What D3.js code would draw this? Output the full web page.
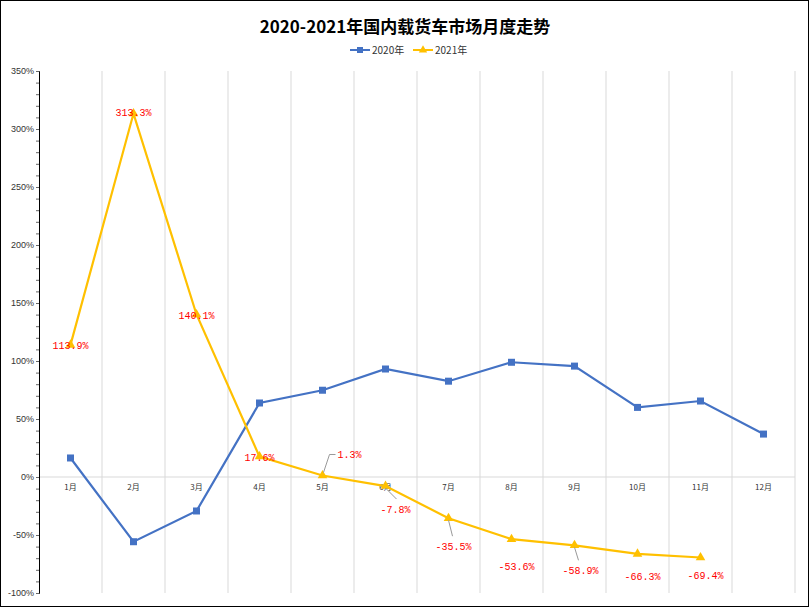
<!DOCTYPE html><html><head><meta charset="utf-8"><script src="https://cdn.jsdelivr.net/npm/d3@7"></script>
<style>body{margin:0;background:#fff}</style></head><body><svg id="c" width="810" height="608"></svg>
<script>
const months=["1月","2月","3月","4月","5月","6月","7月","8月","9月","10月","11月","12月"];
const s2020=[16.4,-55.8,-29.3,63.8,74.8,93.1,82.6,98.9,95.6,60.0,65.5,37.0];
const s2021=[113.9,313.3,140.1,17.6,1.3,-7.8,-35.5,-53.6,-58.9,-66.3,-69.4];
const lbl2021=["113.9%","313.3%","140.1%","17.6%","1.3%","-7.8%","-35.5%","-53.6%","-58.9%","-66.3%","-69.4%"];
const yTicks=[-100,-50,0,50,100,150,200,250,300,350];
const svg=d3.select("#c");
svg.append("rect").attr("x",0.5).attr("y",0.5).attr("width",808).attr("height",606).attr("fill","#fff").attr("stroke","#000");
const x=d3.scaleBand().domain(months).range([39,795]);
const y=d3.scaleLinear().domain([-100,350]).range([593,71]);
const cx=d=>x(d)+x.bandwidth()/2;
months.forEach(m=>svg.append("line").attr("x1",x(m)+x.bandwidth()).attr("x2",x(m)+x.bandwidth()).attr("y1",71).attr("y2",593).attr("stroke","#d9d9d9"));
svg.append("line").attr("x1",39).attr("x2",795).attr("y1",y(0)).attr("y2",y(0)).attr("stroke","#d9d9d9");
const ya=svg.append("g").attr("transform","translate(39,0)").call(d3.axisLeft(y).tickValues(d3.range(-100,351,10)).tickSize(3).tickFormat(d=>yTicks.includes(d)?d+"%":""));
ya.select(".domain").attr("stroke","#000");
ya.selectAll("text").attr("font-family","Liberation Sans, Arial").attr("font-size",9).attr("fill","#333").attr("x",-5);
ya.selectAll("line").attr("stroke","#666");
months.forEach(m=>svg.append("text").attr("x",cx(m)).attr("y",y(0)+13).attr("text-anchor","middle").attr("font-size",8).attr("font-family","Noto Sans CJK SC").attr("fill","#333").text(m));
const line=d3.line().x((d,i)=>cx(months[i])).y(d=>y(d));
svg.append("path").attr("d",line(s2020)).attr("fill","none").attr("stroke","#4472C4").attr("stroke-width",2.2);
svg.append("path").attr("d",line(s2021)).attr("fill","none").attr("stroke","#FFC000").attr("stroke-width",2.2);
s2020.forEach((v,i)=>svg.append("rect").attr("x",cx(months[i])-3.5).attr("y",y(v)-3.5).attr("width",7).attr("height",7).attr("fill","#4472C4"));
const tri=d3.symbol().type(d3.symbolTriangle).size(40);
s2021.forEach((v,i)=>svg.append("path").attr("d",tri()).attr("transform",`translate(${cx(months[i])},${y(v)})`).attr("fill","#FFC000"));
const off=[[0,1],[0,-1],[0,1],[0,1],[15,-21],[10,23],[5,28],[5,27],[6,25],[5,23],[5,18]];
s2021.forEach((v,i)=>{const px=cx(months[i]),py=y(v),[dx,dy]=off[i];
 if(i>=5&&i<=6||i==8){svg.append("path").attr("d",`M${px},${py+2}L${px+(i==5?11:4)},${py+dy-10}`).attr("fill","none").attr("stroke","#999");}
 if(i==4)svg.append("path").attr("d",`M${px+1},${py-3}L${px+7},${py-21}L${px+13},${py-21}`).attr("fill","none").attr("stroke","#999");
 svg.append("text").attr("x",px+dx).attr("y",py+dy).attr("text-anchor",i==4?"start":"middle").attr("dy","0.35em").attr("font-family","Liberation Mono, DejaVu Sans Mono").attr("font-size",10).attr("fill","#FF0000").text(lbl2021[i]);});
svg.append("text").attr("x",405).attr("y",33).attr("text-anchor","middle").attr("font-family","Noto Sans CJK SC").attr("font-weight","bold").attr("font-size",17).attr("fill","#000").text("2020-2021年国内载货车市场月度走势");
const lg=[["2020年","#4472C4","sq",350],["2021年","#FFC000","tri",413]];
lg.forEach(([t,c,s,lx])=>{svg.append("line").attr("x1",lx).attr("x2",lx+20).attr("y1",50).attr("y2",50).attr("stroke",c).attr("stroke-width",2);
 if(s=="sq")svg.append("rect").attr("x",lx+7).attr("y",47).attr("width",6).attr("height",6).attr("fill",c);else svg.append("path").attr("d",tri.size(30)()).attr("transform",`translate(${lx+10},50)`).attr("fill",c);
 svg.append("text").attr("x",lx+22).attr("y",54).attr("font-family","Noto Sans CJK SC").attr("font-size",10).attr("fill","#333").text(t);});
</script></body></html>
